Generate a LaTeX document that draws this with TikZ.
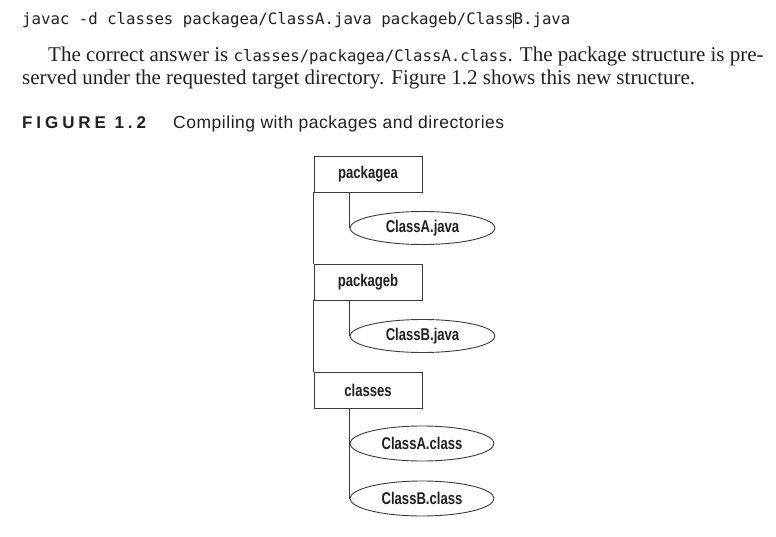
\documentclass[tikz,border=0pt]{standalone}
\usepackage{fontspec}
\setmainfont{Liberation Serif}
\newfontfamily\monofont{DejaVu Sans Mono}
\newfontfamily\condb[FakeStretch=0.77]{Liberation Sans Bold}
\newfontfamily\capsans[LetterSpace=3]{Liberation Sans}
\newfontfamily\figfont[LetterSpace=23]{Liberation Sans Bold}
\usetikzlibrary{shapes.geometric}
\definecolor{ink}{HTML}{231F20}
\definecolor{linec}{HTML}{3A3A3A}
\tikzset{
  txt/.style={anchor=base west, inner sep=0pt, text=ink},
  dirbox/.style={draw=linec, line width=0.9pt, fill=white, rectangle, minimum width=108pt, minimum height=36pt, inner sep=0pt, font=\condb\fontsize{17}{18}\selectfont, text=ink},
  filebox/.style={draw=linec, line width=0.9pt, fill=white, ellipse, minimum width=145pt, minimum height=33pt, inner sep=0pt, font=\condb\fontsize{17}{18}\selectfont, text=ink},
  conn/.style={draw=linec, line width=0.9pt}
}
\begin{document}
\begin{tikzpicture}[x=1pt,y=-1pt]
\useasboundingbox (0,0) rectangle (776,537);
% text above the figure
\node[txt, font=\monofont\fontsize{15.7}{18}\selectfont] (cmd) at (22,25) {javac -d classes packagea/ClassA.java packageb/ClassB.java};
\draw[ink, line width=0.9pt] (513.8,13) -- (513.8,28);
\node[txt, font=\fontsize{21}{23}\selectfont] (p1) at (48,62) {The correct answer is {\monofont\fontsize{15.7}{18}\selectfont classes/packagea/ClassA.class}. The package structure is pre-};
\node[txt, font=\fontsize{21}{23}\selectfont] (p2) at (22,85) {served under the requested target directory. Figure 1.2 shows this new structure.};
\node[txt, font=\figfont\fontsize{17}{18}\selectfont] (fig) at (22,129) {FIGURE 1.2};
\node[txt, font=\capsans\fontsize{17.5}{18}\selectfont] (cap) at (173,129) {Compiling with packages and directories};
% diagram
\node[dirbox] (pa) at (368,174) {packagea};
\node[filebox] (caj) at (422.5,228) {ClassA.java};
\node[dirbox] (pb) at (368,282) {packageb};
\node[filebox] (cbj) at (422.5,336) {ClassB.java};
\node[dirbox] (cl) at (368,390) {classes};
\node[filebox, minimum height=35pt, minimum width=144pt] (cac) at (422,443.5) {ClassA.class};
\node[filebox, minimum height=35pt, minimum width=144pt] (cbc) at (422,498.5) {ClassB.class};
% connectors
\draw[conn] (pa.south west) -- (pb.north west);
\draw[conn] (pb.south west) -- (cl.north west);
\draw[conn] (pa.south -| caj.west) -- (caj.west);
\draw[conn] (pb.south -| cbj.west) -- (cbj.west);
\draw[conn] (cl.south -| cac.west) -- (cac.west) -- (cbc.west);
\end{tikzpicture}
\end{document}
